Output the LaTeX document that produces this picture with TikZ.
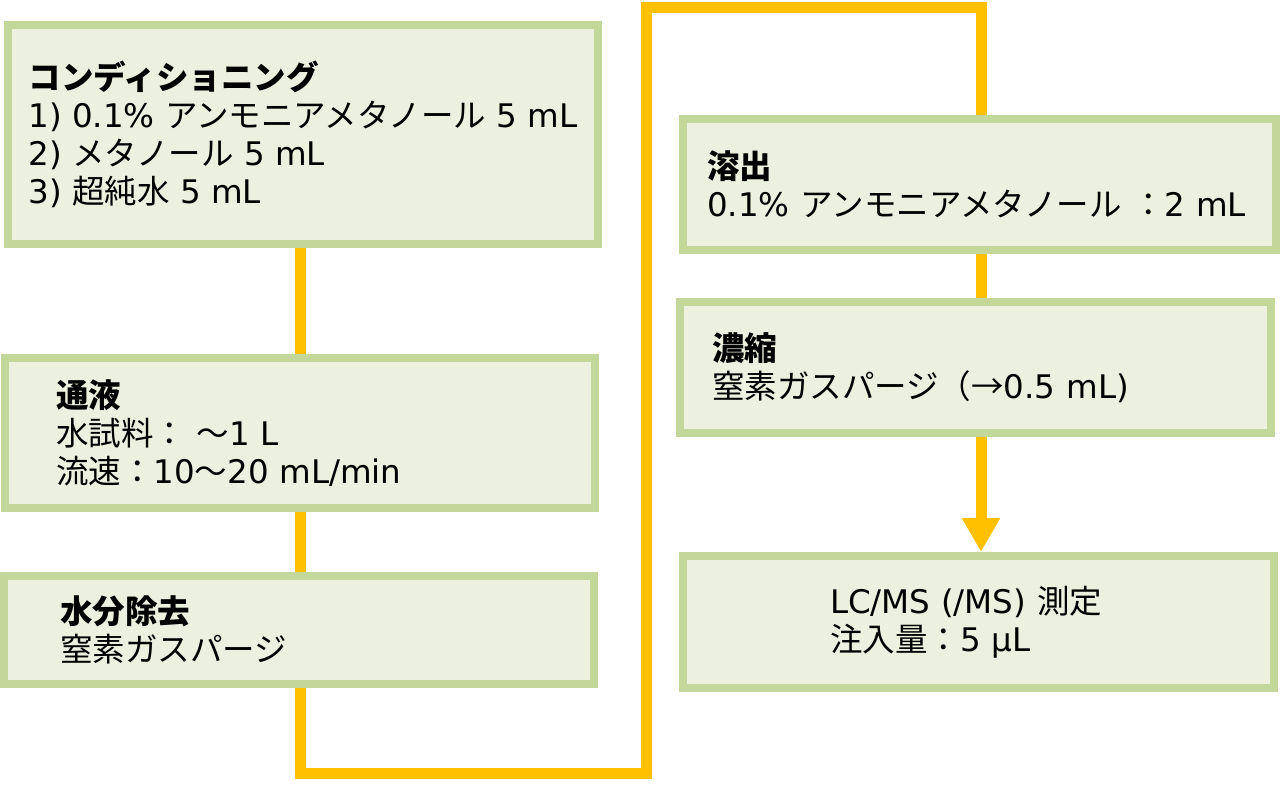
\documentclass[tikz,border=0pt]{standalone}
\usepackage{fontspec}
\setmainfont{DejaVu Sans}
\newfontfamily\jp{Noto Sans CJK JP}
\usetikzlibrary{arrows.meta,backgrounds}
\definecolor{boxfill}{HTML}{EBF1DE}
\definecolor{boxline}{HTML}{C4D79B}
\definecolor{flowc}{HTML}{FFC000}
\begin{document}
\begin{tikzpicture}[x=1pt,y=-1pt,
  stepbox/.style={draw=boxline, fill=boxfill, line width=8pt, align=left,
    font=\fontsize{32.5}{38}\selectfont, inner ysep=0pt},
  flow/.style={draw=flowc, line width=11pt}]
\useasboundingbox (0,0) rectangle (1280,785);
% boxes
\node[stepbox, minimum width=590pt, minimum height=219pt] (cond) at (303,134.5)
  {{\jp\bfseries コンディショニング}\\1) 0.1\% {\jp アンモニアメタノール} 5 mL\\2) {\jp メタノール} 5 mL\\3) {\jp 超純水} 5 mL};
\node[stepbox, minimum width=590pt, minimum height=150pt, text width=488pt, inner xsep=51pt] (pass) at (300,433)
  {{\jp\bfseries 通液}\\{\jp 水試料：} {\jp ～}1 L\\{\jp 流速：}10{\jp ～}20 mL/min};
\node[stepbox, minimum width=590pt, minimum height=108pt, text width=478pt, inner xsep=56pt] (dry) at (299,630)
  {{\jp\bfseries 水分除去}\\{\jp 窒素ガスパージ}};
\node[stepbox, minimum width=593pt, minimum height=131pt, text width=545pt, inner xsep=24pt] (elu) at (979.5,184.5)
  {{\jp\bfseries 溶出}\\0.1\% {\jp アンモニアメタノール ：}2 mL};
\node[stepbox, minimum width=591pt, minimum height=131pt, text width=527pt, inner xsep=32pt] (conc) at (975.5,367.5)
  {{\jp\bfseries 濃縮}\\{\jp 窒素ガスパージ（→}0.5 mL)};
\node[stepbox, minimum width=591pt, minimum height=132pt, text width=297pt, inner xsep=147pt] (lcms) at (978.5,622)
  {LC/MS (/MS) {\jp 測定}\\{\jp 注入量：}5 µL};
% route corners
\coordinate (c1) at (300,773);
\coordinate (c2) at (646,773);
\coordinate (c3) at (646,7);
\coordinate (c4) at (981,7);
\begin{pgfonlayer}{background}
\draw[flow] (cond.south -| c1) -- (pass.north -| c1);
\draw[flow] (pass.south -| c1) -- (dry.north -| c1);
\draw[flow] (dry.south -| c1) -- (c1) -- (c2) -- (c3) -- (c4) -- (elu.north -| c4);
\draw[flow] (elu.south -| c4) -- (conc.north -| c4);
\end{pgfonlayer}
\draw[flow, -{Triangle[width=36pt,length=34pt]}] (conc.south -| c4) -- (lcms.north -| c4);
\end{tikzpicture}
\end{document}
